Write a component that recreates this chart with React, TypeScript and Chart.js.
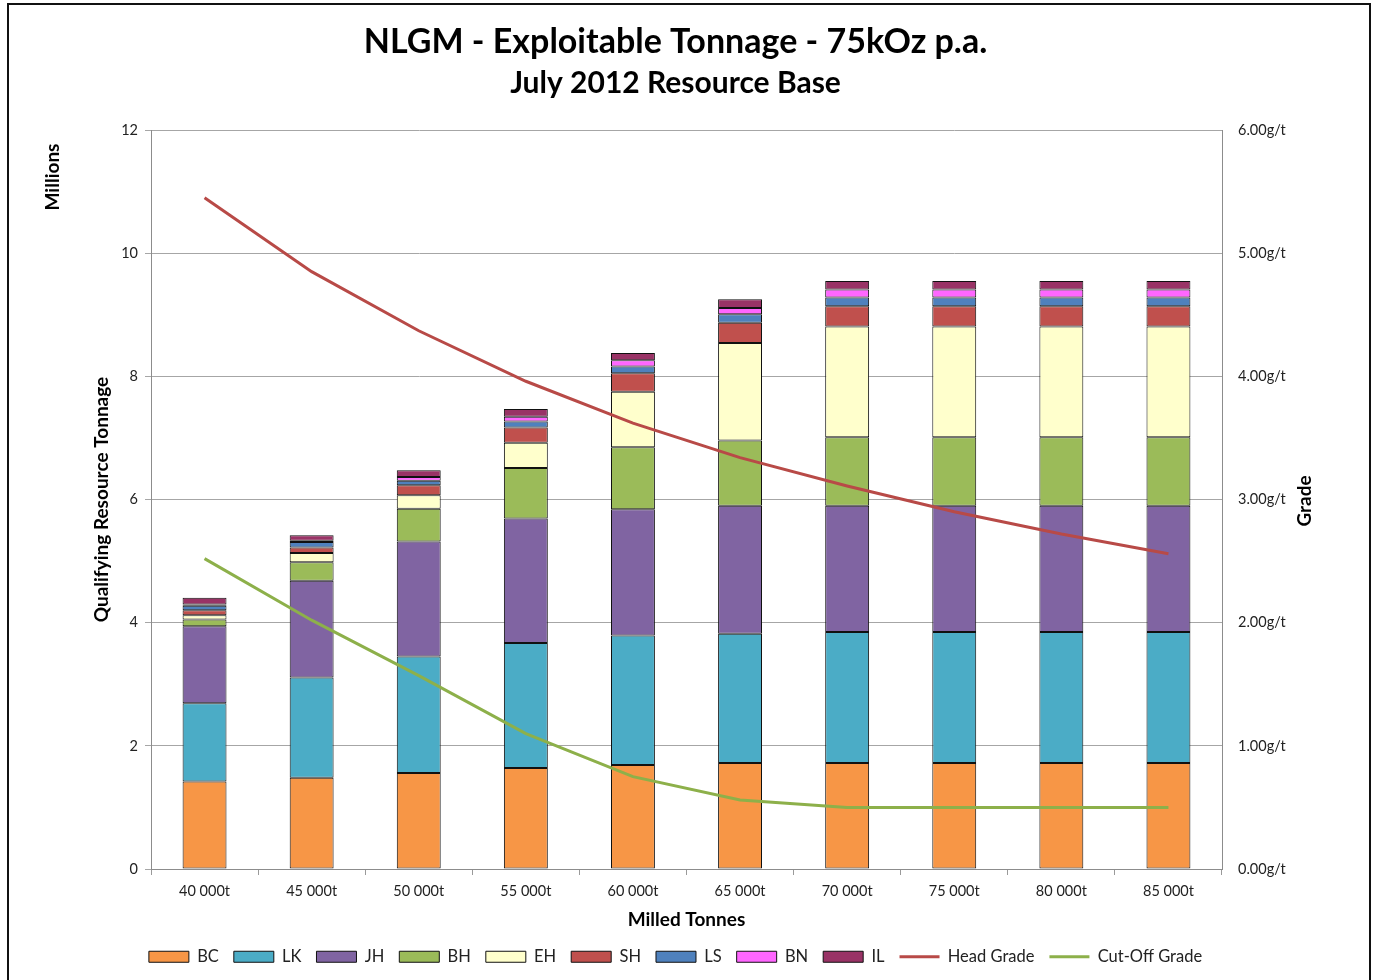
import React, { useEffect, useRef } from "react";
import { Chart, registerables } from "chart.js";

Chart.register(...registerables);

const categories = ["40 000t", "45 000t", "50 000t", "55 000t", "60 000t", "65 000t", "70 000t", "75 000t", "80 000t", "85 000t"];

const BC = [1.42, 1.48, 1.56, 1.64, 1.69, 1.72, 1.72, 1.72, 1.72, 1.72];
const LK = [1.27, 1.63, 1.89, 2.03, 2.1, 2.1, 2.13, 2.13, 2.13, 2.13];
const JH = [1.25, 1.57, 1.87, 2.02, 2.05, 2.08, 2.05, 2.05, 2.05, 2.05];
const BH = [0.11, 0.3, 0.53, 0.82, 1.01, 1.06, 1.11, 1.11, 1.11, 1.11];
const EH = [0.07, 0.15, 0.22, 0.41, 0.9, 1.58, 1.8, 1.8, 1.8, 1.8];
const SH = [0.08, 0.09, 0.16, 0.25, 0.3, 0.33, 0.33, 0.33, 0.33, 0.33];
const LS = [0.075, 0.09, 0.075, 0.095, 0.11, 0.14, 0.14, 0.14, 0.14, 0.14];
const BN = [0.02, 0.02, 0.06, 0.08, 0.1, 0.1, 0.13, 0.13, 0.13, 0.13];
const IL = [0.11, 0.09, 0.11, 0.125, 0.12, 0.14, 0.14, 0.14, 0.14, 0.14];

const headGrade = [5.45, 4.85, 4.37, 3.96, 3.62, 3.34, 3.11, 2.9, 2.72, 2.56];
const cutOffGrade = [2.52, 2.02, 1.57, 1.1, 0.75, 0.56, 0.5, 0.5, 0.5, 0.5];

const leftTicks = [0, 2, 4, 6, 8, 10, 12];
const rightTicks = [0, 1, 2, 3, 4, 5, 6];

const FONT = 'Lato, "Open Sans", "Noto Sans", sans-serif';

const barSeries: [string, number[], string][] = [
  ["BC", BC, "#F79646"],
  ["LK", LK, "#4BACC6"],
  ["JH", JH, "#8064A2"],
  ["BH", BH, "#9BBB59"],
  ["EH", EH, "#FFFFCC"],
  ["SH", SH, "#C0504D"],
  ["LS", LS, "#4F81BD"],
  ["BN", BN, "#FF66FF"],
  ["IL", IL, "#993366"],
];

const extraLabels = {
  id: "extraLabels",
  afterDraw(chart: any) {
    const ctx = chart.ctx;
    ctx.save();
    ctx.fillStyle = "#000";
    ctx.font = `bold 19px ${FONT}`;
    ctx.textAlign = "center";
    ctx.textBaseline = "middle";
    ctx.translate(53, 177);
    ctx.rotate(-Math.PI / 2);
    ctx.fillText("Millions", 0, 0);
    ctx.restore();

    ctx.save();
    ctx.fillStyle = "#000";
    ctx.font = `bold 19px ${FONT}`;
    ctx.textAlign = "center";
    ctx.textBaseline = "middle";
    ctx.translate(1305, 501);
    ctx.rotate(-Math.PI / 2);
    ctx.fillText("Grade", 0, 0);
    ctx.restore();
  },
};

export default function App() {
  const ref = useRef<HTMLCanvasElement>(null);

  useEffect(() => {
    if (!ref.current) return;
    const datasets: any[] = barSeries.map(([label, data, color]) => ({
      type: "bar",
      label,
      data,
      backgroundColor: color,
      borderColor: "#111",
      borderWidth: 1,
      borderSkipped: false,
      yAxisID: "y",
      stack: "res",
      categoryPercentage: 1,
      barPercentage: 0.41,
      pointStyle: "rect",
      order: 1,
    }));
    datasets.push({
      type: "line",
      label: "Head Grade",
      data: headGrade,
      borderColor: "#B84A47",
      backgroundColor: "#B84A47",
      borderWidth: 3,
      pointRadius: 0,
      tension: 0,
      yAxisID: "y1",
      pointStyle: "line",
      order: 0,
    });
    datasets.push({
      type: "line",
      label: "Cut-Off Grade",
      data: cutOffGrade,
      borderColor: "#8DB04A",
      backgroundColor: "#8DB04A",
      borderWidth: 3,
      pointRadius: 0,
      tension: 0,
      yAxisID: "y1",
      pointStyle: "line",
      order: 0,
    });

    const chart = new Chart(ref.current, {
      type: "bar",
      data: { labels: categories, datasets },
      plugins: [extraLabels],
      options: {
        animation: false,
        responsive: false,
        maintainAspectRatio: false,
        devicePixelRatio: 1,
        layout: { padding: { left: 0, right: 24, top: 0, bottom: 5 } },
        plugins: {
          title: {
            display: true,
            text: "NLGM - Exploitable Tonnage - 75kOz p.a.",
            color: "#000",
            font: { family: FONT, size: 34, weight: "bold" },
            padding: { top: 21.6, bottom: 0 },
          },
          subtitle: {
            display: true,
            text: "July 2012 Resource Base",
            color: "#000",
            font: { family: FONT, size: 30, weight: "bold" },
            padding: { top: 2.6, bottom: 29 },
          },
          legend: {
            position: "bottom",
            labels: {
              usePointStyle: true,
              pointStyleWidth: 40,
              boxHeight: 11,
              padding: 15,
              color: "#222",
              font: { family: FONT, size: 16.5 },
              sort: (a: any, b: any) => a.datasetIndex - b.datasetIndex,
            },
          },
          tooltip: { enabled: false },
        },
        scales: {
          x: {
            stacked: true,
            offset: true,
            grid: {
              display: true,
              drawOnChartArea: false,
              drawTicks: true,
              tickLength: 6,
              color: "#9A9A9A",
              offset: true,
            },
            border: { display: true, color: "#8C8C8C" },
            ticks: {
              color: "#222",
              padding: 8,
              font: { family: FONT, size: 14.5 },
              maxRotation: 0,
            },
            title: {
              display: true,
              text: "Milled Tonnes",
              color: "#000",
              font: { family: FONT, size: 19, weight: "bold" },
              padding: { top: 0, bottom: 2 },
            },
            afterFit: (scale: any) => {
              scale.height = 64.5;
            },
          },
          y: {
            type: "linear",
            position: "left",
            stacked: true,
            min: 0,
            max: 12,
            afterBuildTicks: (scale: any) => {
              scale.ticks = leftTicks.map((v) => ({ value: v }));
            },
            grid: {
              color: "#A6A6A6",
              drawTicks: true,
              tickLength: 6,
            },
            border: { display: true, color: "#8C8C8C" },
            ticks: {
              color: "#222",
              padding: 7,
              font: { family: FONT, size: 14.5 },
            },
            title: {
              display: true,
              text: "Qualifying Resource Tonnage",
              color: "#000",
              font: { family: FONT, size: 19, weight: "bold" },
              padding: { top: 90.6, bottom: 0 },
            },
            afterFit: (scale: any) => {
              scale.width = 151;
            },
          },
          y1: {
            type: "linear",
            position: "right",
            min: 0,
            max: 6,
            afterBuildTicks: (scale: any) => {
              scale.ticks = rightTicks.map((v) => ({ value: v }));
            },
            grid: {
              drawOnChartArea: false,
              drawTicks: false,
              color: "#A6A6A6",
            },
            border: { display: true, color: "#8C8C8C" },
            ticks: {
              color: "#222",
              padding: 16,
              font: { family: FONT, size: 14.5 },
              callback: (v: any) => Number(v).toFixed(2) + "g/t",
            },
            afterFit: (scale: any) => {
              scale.width = 129;
            },
          },
        },
      } as any,
    });
    return () => chart.destroy();
  }, []);

  return (
    <div style={{ position: "fixed", left: 0, top: 0, width: 1375, height: 980, overflow: "hidden", background: "#fff" }}>
      <div
        style={{
          position: "absolute",
          left: 7,
          top: 3,
          width: 1364,
          height: 1100,
          border: "2px solid #111",
          boxSizing: "border-box",
        }}
      />
      <canvas
        ref={ref}
        width={1375}
        height={980}
        style={{ position: "absolute", left: 0, top: 0, width: 1375, height: 980 }}
      />
    </div>
  );
}
